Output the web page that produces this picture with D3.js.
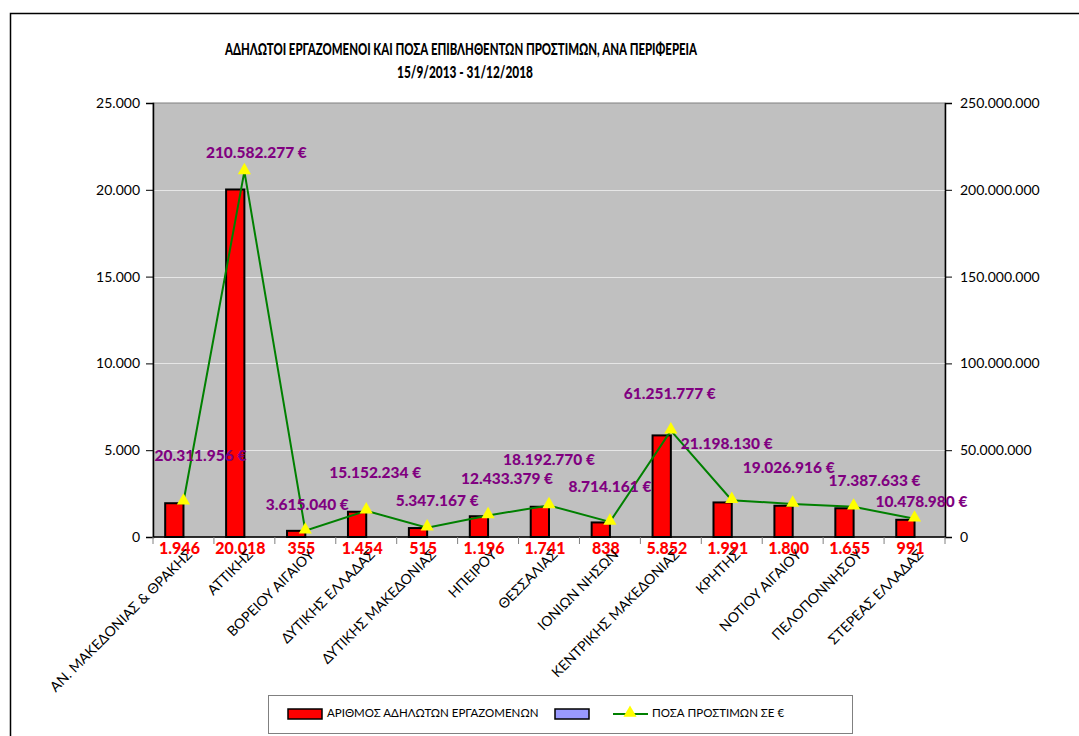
<!DOCTYPE html>
<meta charset="utf-8">
<style>
  body { margin: 0; background: #fff; }
  text { font-family: Lato, "Open Sans", sans-serif; }
</style>
<body>
<div id="chart"></div>
<script src="https://d3js.org/d3.v7.js"></script>
<script>
  var regions = ["ΑΝ. ΜΑΚΕΔΟΝΙΑΣ & ΘΡΑΚΗΣ", "ΑΤΤΙΚΗΣ", "ΒΟΡΕΙΟΥ ΑΙΓΑΙΟΥ", "ΔΥΤΙΚΗΣ ΕΛΛΑΔΑΣ",
    "ΔΥΤΙΚΗΣ ΜΑΚΕΔΟΝΙΑΣ", "ΗΠΕΙΡΟΥ", "ΘΕΣΣΑΛΙΑΣ", "ΙΟΝΙΩΝ ΝΗΣΩΝ", "ΚΕΝΤΡΙΚΗΣ ΜΑΚΕΔΟΝΙΑΣ",
    "ΚΡΗΤΗΣ", "ΝΟΤΙΟΥ ΑΙΓΑΙΟΥ", "ΠΕΛΟΠΟΝΝΗΣΟΥ", "ΣΤΕΡΕΑΣ ΕΛΛΑΔΑΣ"];
  var workers = [1946, 20018, 355, 1454, 515, 1196, 1741, 838, 5852, 1991, 1800, 1655, 991];
  var fines = [20311956, 210582277, 3615040, 15152234, 5347167, 12433379, 18192770, 8714161,
    61251777, 21198130, 19026916, 17387633, 10478980];
  var leftTicks = [0, 5000, 10000, 15000, 20000, 25000];
  var rightTicks = [0, 50000000, 100000000, 150000000, 200000000, 250000000];
  var legendNames = ["ΑΡΙΘΜΟΣ ΑΔΗΛΩΤΩΝ ΕΡΓΑΖΟΜΕΝΩΝ", "", "ΠΟΣΑ ΠΡΟΣΤΙΜΩΝ ΣΕ €"];

  // where Excel put the fine labels, relative to each marker
  var fineLabelShift = [[17, -45], [12, -17], [2, -25], [9, -37], [10, -26], [19, -35], [0, -44],
    [0, -34], [-1, -36], [-5, -55], [-4, -35], [21, -25], [7, -16]];

  var W = 1079, H = 736;
  var plotL = 153, plotR = 945, plotT = 103, plotB = 537;

  var fmt = d3.formatLocale({decimal: ",", thousands: ".", grouping: [3], currency: ["", ""]}).format(",d");

  var svg = d3.select("#chart").append("svg").attr("width", W).attr("height", H);

  // chart border
  svg.append("path").attr("d", "M10.5," + H + "V13.5H" + W)
    .attr("fill", "none").attr("stroke", "#000").attr("stroke-width", 1.5);

  var x = d3.scaleBand().domain(regions).range([plotL, plotR]).padding(0);
  var yL = d3.scaleLinear().domain([0, 25000]).range([plotB, plotT]);
  var yR = d3.scaleLinear().domain([0, 250000000]).range([plotB, plotT]);
  var cx = function(d) { return x(d) + x.bandwidth() / 2; };
  var barW = x.bandwidth() * 0.3;

  svg.append("rect").attr("x", plotL).attr("y", plotT).attr("width", plotR - plotL).attr("height", plotB - plotT)
    .attr("fill", "#C0C0C0").attr("stroke", "#808080").attr("stroke-width", 1);

  svg.append("g").selectAll("line").data(leftTicks.slice(1, -1)).join("line")
    .attr("x1", plotL).attr("x2", plotR)
    .attr("y1", function(d) { return Math.round(yL(d)) + 0.5; })
    .attr("y2", function(d) { return Math.round(yL(d)) + 0.5; })
    .attr("stroke", "#E6E6E6").attr("stroke-width", 1);

  // axes
  var axL = svg.append("g").attr("transform", "translate(" + plotL + ",0)")
    .call(d3.axisLeft(yL).tickValues(leftTicks).tickFormat(fmt).tickSize(7).tickPadding(6));
  var axR = svg.append("g").attr("transform", "translate(" + plotR + ",0)")
    .call(d3.axisRight(yR).tickValues(rightTicks).tickFormat(fmt).tickSize(7).tickPadding(8));
  [axL, axR].forEach(function(a) {
    a.select(".domain").attr("stroke", "#000").attr("stroke-width", 1.5);
    a.selectAll("text").attr("font-size", 14).attr("fill", "#000")
      .style("font-family", "Lato, 'Open Sans', sans-serif");
  });

  var axX = svg.append("g").attr("transform", "translate(0," + plotB + ")");
  axX.append("line").attr("x1", plotL).attr("x2", plotR).attr("stroke", "#000").attr("stroke-width", 1.5);
  axX.selectAll("line.tk").data(d3.range(regions.length + 1)).join("line").attr("class", "tk")
    .attr("x1", function(i) { return plotL + i * x.step(); })
    .attr("x2", function(i) { return plotL + i * x.step(); })
    .attr("y1", 0).attr("y2", 7).attr("stroke", "#808080");

  // bars
  svg.append("g").selectAll("rect").data(regions).join("rect")
    .attr("x", function(d) { return cx(d) - barW; })
    .attr("y", function(d, i) { return yL(workers[i]); })
    .attr("width", barW)
    .attr("height", function(d, i) { return plotB - yL(workers[i]); })
    .attr("fill", "#FF0000").attr("stroke", "#000").attr("stroke-width", 2);

  // fines line
  var line = d3.line().x(function(d, i) { return cx(regions[i]); }).y(function(d) { return yR(d); });
  svg.append("path").datum(fines).attr("d", line)
    .attr("fill", "none").attr("stroke", "#008000").attr("stroke-width", 2);

  var tri = d3.symbol().type(d3.symbolTriangle).size(75);
  svg.append("g").selectAll("path").data(fines).join("path")
    .attr("d", tri)
    .attr("transform", function(d, i) { return "translate(" + cx(regions[i]) + "," + (yR(d) - 1) + ")"; })
    .attr("fill", "#FFFF00");

  // fine labels
  svg.append("g").selectAll("text").data(fines).join("text")
    .attr("x", function(d, i) { return cx(regions[i]) + fineLabelShift[i][0]; })
    .attr("y", function(d, i) { return yR(d) + fineLabelShift[i][1]; })
    .attr("text-anchor", "middle").attr("dominant-baseline", "middle")
    .attr("font-size", 15.5).attr("font-weight", "900").attr("fill", "#800080")
    .text(function(d) { return fmt(d) + " €"; });

  // worker labels
  svg.append("g").selectAll("text").data(workers).join("text")
    .attr("x", function(d, i) { return cx(regions[i]) - 4; })
    .attr("y", plotB + 13)
    .attr("text-anchor", "middle").attr("dominant-baseline", "middle")
    .attr("font-size", 16).attr("font-weight", "900").attr("fill", "#FF0000")
    .text(function(d) { return fmt(d); });

  // category labels
  svg.append("g").selectAll("text").data(regions).join("text")
    .attr("transform", function(d) { return "translate(" + (cx(d) + 7) + "," + (plotB + 16) + ") rotate(-45)"; })
    .attr("text-anchor", "end").attr("dominant-baseline", "middle")
    .attr("font-size", 14).attr("fill", "#000")
    .text(function(d) { return d; });

  // title
  var title = svg.append("text").attr("text-anchor", "middle").attr("font-size", 16)
    .attr("font-weight", "900").attr("fill", "#000");
  title.append("tspan").attr("x", 461).attr("y", 55)
    .attr("textLength", 472).attr("lengthAdjust", "spacingAndGlyphs")
    .text("ΑΔΗΛΩΤΟΙ ΕΡΓΑΖΟΜΕΝΟΙ ΚΑΙ ΠΟΣΑ ΕΠΙΒΛΗΘΕΝΤΩΝ ΠΡΟΣΤΙΜΩΝ, ΑΝΑ ΠΕΡΙΦΕΡΕΙΑ");
  title.append("tspan").attr("x", 465).attr("y", 78)
    .attr("textLength", 136).attr("lengthAdjust", "spacingAndGlyphs")
    .text("15/9/2013 - 31/12/2018");

  // legend
  var lg = svg.append("g").attr("transform", "translate(268,695)");
  lg.append("rect").attr("x", 0.5).attr("y", 0.5).attr("width", 584).attr("height", 38)
    .attr("fill", "#fff").attr("stroke", "#808080");
  lg.append("rect").attr("x", 20).attr("y", 14).attr("width", 34).attr("height", 10)
    .attr("fill", "#FF0000").attr("stroke", "#000").attr("stroke-width", 1.5);
  lg.append("text").attr("x", 59).attr("y", 19).attr("dominant-baseline", "middle")
    .attr("font-size", 11.5).text(legendNames[0]);
  lg.append("rect").attr("x", 287).attr("y", 14).attr("width", 34).attr("height", 10)
    .attr("fill", "#9999FF").attr("stroke", "#000").attr("stroke-width", 1.5);
  lg.append("line").attr("x1", 345).attr("x2", 380).attr("y1", 19).attr("y2", 19)
    .attr("stroke", "#008000").attr("stroke-width", 2);
  lg.append("path").attr("d", tri).attr("transform", "translate(362,18)").attr("fill", "#FFFF00");
  lg.append("text").attr("x", 384).attr("y", 19).attr("dominant-baseline", "middle")
    .attr("font-size", 11.5).text(legendNames[2]);
</script>
</body>
